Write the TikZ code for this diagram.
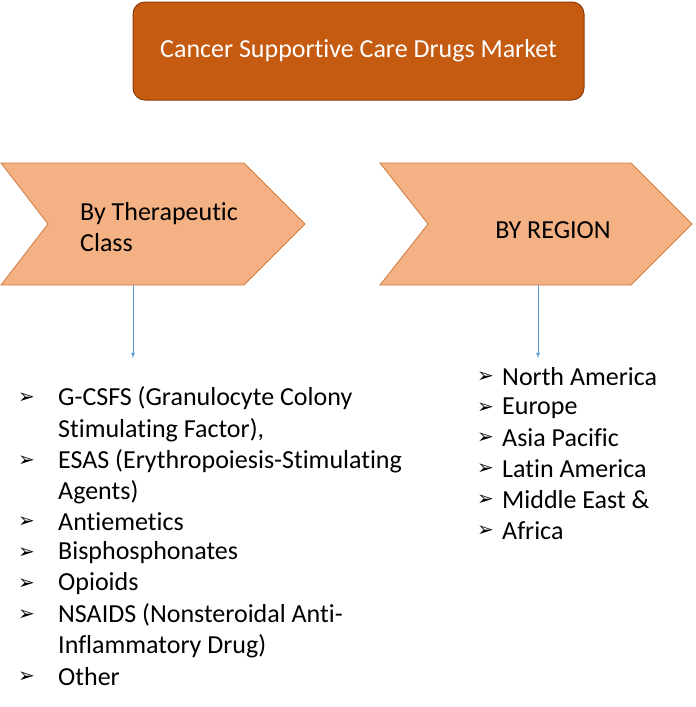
\documentclass[tikz,border=0pt]{standalone}
\usepackage{fontspec}
\setmainfont{Carlito}[Ligatures=NoCommon]
\newfontfamily\symfont{DejaVu Sans}
\usetikzlibrary{positioning}
\definecolor{rust}{HTML}{C55A11}
\definecolor{peach}{HTML}{F4B183}
\definecolor{arrowblue}{HTML}{5B9BD5}
\begin{document}
\begin{tikzpicture}[x=1pt, y=-1pt, font=\fontsize{26}{31}\selectfont,
  chev/.style={fill=peach, draw=rust!80, line width=0.8pt},
  itm/.style={anchor=west, inner sep=0pt},
  bul/.style={anchor=west, inner sep=0pt, font=\symfont\bfseries\fontsize{20}{24}\selectfont},
  link/.style={draw=arrowblue, line width=0.8pt, -latex}]
\useasboundingbox (0,0) rectangle (696,707);
% title
\node[draw=rust!70!black, fill=rust, rounded corners=12pt, line width=1pt,
  minimum width=451pt, minimum height=98pt, text=white] (title) at (358.5,51) {Cancer Supportive Care Drugs Market};
% chevrons
\draw[chev] (1,163) -- (244,163) -- (305,224) -- (244,285) -- (1,285) -- (48,224) -- cycle;
\draw[chev] (380,163) -- (631,163) -- (692,224) -- (631,285) -- (380,285) -- (428,224) -- cycle;
\node[align=left, anchor=west, inner sep=0pt] (therapy) at (80,227) {By Therapeutic\\Class};
\node (region) at (553,230) {BY REGION};
\coordinate (tl) at (133,285);
\coordinate (tlend) at (133,358);
\coordinate (rl) at (538,285);
\coordinate (rlend) at (538,358);
\draw[link] (tl) -- (tlend);
\draw[link] (rl) -- (rlend);
% left list
\foreach \y/\t in {398/{G-CSFS (Granulocyte Colony}, 461/{ESAS (Erythropoiesis-Stimulating},
  522/{Antiemetics}, 553/{Bisphosphonates}, 584/{Opioids},
  615/{NSAIDS (Nonsteroidal Anti-}, 677/{Other}} {
  \node[bul] at (18,\y) {➢};
  \node[itm] at (58,\y) {\t};
}
\foreach \y/\t in {430/{Stimulating Factor),}, 492/{Agents)}, 646/{Inflammatory Drug)}}
  \node[itm] at (58,\y) {\t};
% right list
\foreach \y/\t in {377/{North America}, 408/{Europe}, 438/{Asia Pacific},
  469/{Latin America}, 500/{Middle East \&}, 531/{Africa}} {
  \node[bul] at (477,\y) {➢};
  \node[itm] at (502,\y) {\t};
}
\end{tikzpicture}
\end{document}
